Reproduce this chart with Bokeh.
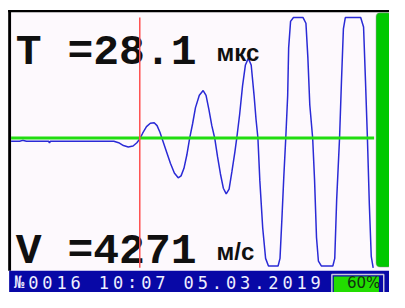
from bokeh.plotting import figure
from bokeh.models import Range1d, BoxAnnotation
from bokeh.core.properties import value
from bokeh.embed import file_html
from bokeh.resources import INLINE

# ---- data ----
# waveform: sample position relative to cursor, amplitude (screen units)
t = [-134, -125, -122, -118, -95, -94, -93, -27, -22, -17, -12, -7, -3, 0, 3, 7, 11, 15, 18, 21,
     23, 28, 32, 36, 40, 43, 46, 49, 52, 55, 58, 62, 66, 69, 72, 75, 78, 81, 84, 87, 90, 93,
     96, 99, 101, 104, 107, 110, 113, 116, 119, 121, 123, 125, 128, 131, 134, 144, 146, 148,
     150, 152, 154, 155, 157, 160, 170, 173, 175, 177, 180, 182, 184, 186, 189, 201, 203, 205,
     208, 210, 212, 214, 230, 233, 235, 237, 239, 241, 243]
amp = [-3.5, -3.5, -2.5, -3.5, -3.5, -5, -3.5, -3.5, -5, -8, -9.5, -8.5, -5, -1, 5, 12, 15.5, 16, 13, 6,
       0, -15, -27, -37, -42, -40, -32, -18, 0, 15, 32, 45, 50, 45, 30, 13, 0, -20, -38, -53, -59, -54,
       -35, -15, 0, 25, 55, 77, 84, 77, 45, 20, 0, -45, -95, -127, -135, -135, -127, -85,
       -40, 0, 45, 95, 123, 127, 127, 121, 85, 35, 0, -45, -105, -130, -135, -135, -127, -65,
       0, 60, 115, 127, 127, 117, 60, 0, -70, -125, -137]

t_label = "T =28.1"
t_unit = "мкс"
v_label = "V =4271"
v_unit = "м/с"
status = "№0016 10:07 05.03.2019"
battery = "60%"

# ---- layout helpers (reference pixel -> plot coords) ----
def X(px):
    return px - 145

def Y(py):
    return 145 - py

p = figure(width=389, height=292, x_range=Range1d(X(0), X(405)), y_range=Range1d(Y(308), Y(0)),
           output_backend="svg", toolbar_location=None, min_border=0,
           x_axis_type=None, y_axis_type=None)
p.grid.visible = False
p.outline_line_color = None
p.background_fill_color = "white"
p.border_fill_color = "white"

# screen background
p.quad(left=X(11), right=X(405), top=Y(12), bottom=Y(285), fill_color="#FDF9FD", line_color=None)
# black border
p.quad(left=X(8), right=X(405), top=Y(10), bottom=Y(12.5), fill_color="black", line_color=None)
p.quad(left=X(8), right=X(11), top=Y(10), bottom=Y(285), fill_color="black", line_color=None)

# waveform
p.line(t, amp, line_color="#2A2AD6", line_width=1.5)

# big texts
mono = value("Liberation Mono")
sans = value("Liberation Sans")
p.text(x=[X(16)], y=[Y(55)], text=[t_label], text_font=mono, text_font_style="bold",
       text_font_size="43px", text_color="#101010", text_baseline="alphabetic")
p.text(x=[X(16)], y=[Y(265)], text=[v_label], text_font=mono, text_font_style="bold",
       text_font_size="43px", text_color="#101010", text_baseline="alphabetic")
p.text(x=[X(225)], y=[Y(55)], text=[t_unit], text_font=sans, text_font_style="bold",
       text_font_size="24px", text_color="#101010", text_baseline="alphabetic")
p.text(x=[X(225)], y=[Y(265)], text=[v_unit], text_font=sans, text_font_style="bold",
       text_font_size="24px", text_color="#101010", text_baseline="alphabetic")

# green level line and red cursor
p.segment(x0=[X(11)], y0=[0], x1=[X(389)], y1=[0], line_color="#22DD11", line_width=3)
p.segment(x0=[0], y0=[Y(18)], x1=[0], y1=[Y(282)], line_color="#FF5050", line_width=1.5)

# right green gain bar
p.add_layout(BoxAnnotation(left=X(391), right=X(407), top=Y(13), bottom=Y(281),
                           fill_color="#00C800", fill_alpha=1, line_color="#8C8C8C",
                           line_width=1.5, border_radius=4))

# status bar
p.quad(left=X(9), right=X(405), top=Y(285), bottom=Y(308), fill_color="#0808A6", line_color=None)
chars = list(status)
cx = [X(19.5 + i * 14.7) for i in range(len(chars))]
p.text(x=cx, y=[Y(297)] * len(chars), text=chars, text_font=value("DejaVu Sans Mono"),
       text_font_size="17px", text_color="#EEEEFF", text_align="center", text_baseline="middle")

# battery
p.quad(left=X(345), right=X(399), top=Y(289), bottom=Y(309), fill_color="#0808A6",
       line_color="#C8C8DC", line_width=1.5)
p.quad(left=X(347), right=X(394), top=Y(291), bottom=Y(309), fill_color="#22DD00", line_color=None)
p.text(x=[X(378)], y=[Y(298)], text=[battery], text_font=value("DejaVu Sans"),
       text_font_size="15px", text_color="#103010", text_align="center", text_baseline="middle")

open("out.html", "w").write(file_html(p, INLINE))
